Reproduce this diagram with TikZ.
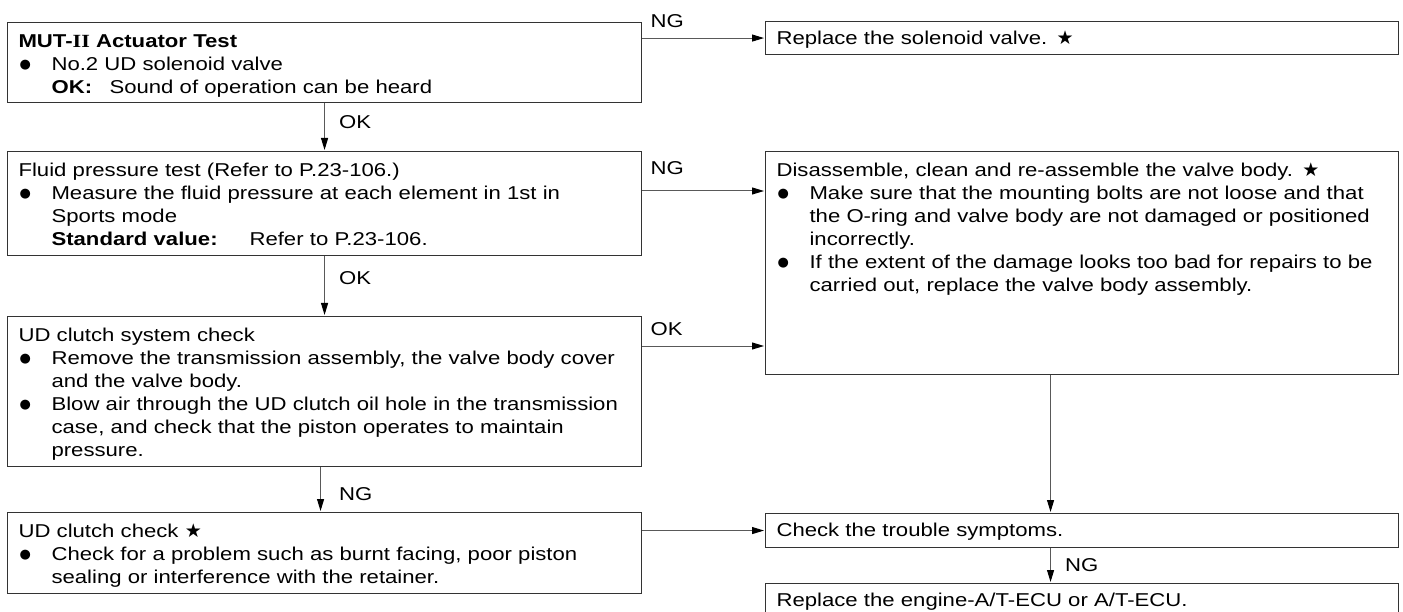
\documentclass[tikz,border=0pt]{standalone}
\usepackage{fontspec}
\setmainfont{Liberation Sans}[FakeStretch=1.19,WordSpace=1.3]
\newfontfamily\serifbf{Liberation Serif}[FakeStretch=1.19]
\newfontfamily\symfont{DejaVu Sans}
\usetikzlibrary{arrows.meta,positioning}

\newcommand{\bulsym}{{\symfont\fontsize{13}{13}\selectfont\raisebox{1.2pt}{●}}}
\newcommand{\itm}{\makebox[33pt][l]{\hspace{1pt}\bulsym}}
\newcommand{\cnt}{\hspace*{33pt}}
\newcommand{\mstar}{{\symfont\fontsize{19}{19}\selectfont ★}}

\begin{document}
\begin{tikzpicture}[
  x=1pt, y=-1pt,
  font=\fontsize{18.6}{23}\selectfont,
  box/.style={draw=black!80, line width=1.1pt, anchor=north west, align=left,
              inner xsep=11pt, inner ysep=0pt, text width=612pt},
  rbox/.style={box, text width=611pt},
  lbl/.style={inner sep=0pt},
  arr/.style={-{Triangle[length=12pt,width=7pt,color=black]}, draw=black!65,
              line width=1pt, shorten >=1pt}]

\useasboundingbox (0,0) rectangle (1403,612);

% left column
\node[box, text height=24.5pt, text depth=55.5pt] (mut) at (7,22)
  {\textbf{MUT-{\serifbf\bfseries II} Actuator Test}\\
   \itm No.2 UD solenoid valve\\
   \cnt\makebox[58pt][l]{\textbf{OK:}}Sound of operation can be heard};
\node[box, text height=24.5pt, text depth=79.5pt] (fluid) at (7,151)
  {Fluid pressure test (Refer to P.23-106.)\\
   \itm Measure the fluid pressure at each element in 1st in\\
   \cnt Sports mode\\
   \cnt\makebox[198pt][l]{\textbf{Standard value:}}Refer to P.23-106.};
\node[box, text height=24.5pt, text depth=125.5pt] (udsys) at (7,316)
  {UD clutch system check\\
   \itm Remove the transmission assembly, the valve body cover\\
   \cnt and the valve body.\\
   \itm Blow air through the UD clutch oil hole in the transmission\\
   \cnt case, and check that the piston operates to maintain\\
   \cnt pressure.};
\node[box, text height=24.5pt, text depth=56.5pt] (udchk) at (7,512)
  {UD clutch check \mstar\\
   \itm Check for a problem such as burnt facing, poor piston\\
   \cnt sealing or interference with the retainer.};

% right column
\node[rbox, text height=23pt, text depth=10pt] (replsol) at (765,21)
  {Replace the solenoid valve. \mstar};
\node[rbox, text height=24.5pt, text depth=198.5pt] (disasm) at (765,151)
  {Disassemble, clean and re-assemble the valve body. \mstar\\
   \itm Make sure that the mounting bolts are not loose and that\\
   \cnt the O-ring and valve body are not damaged or positioned\\
   \cnt incorrectly.\\
   \itm If the extent of the damage looks too bad for repairs to be\\
   \cnt carried out, replace the valve body assembly.};
\node[rbox, text height=23pt, text depth=11pt] (symp) at (765,513)
  {Check the trouble symptoms.};
\node[rbox, text height=23pt, text depth=11pt] (ecu) at (765,583)
  {Replace the engine-A/T-ECU or A/T-ECU.};

% connectors
\draw[arr] (mut) -- node[lbl, right=14pt, pos=0.4] {OK} (fluid);
\draw[arr] (fluid) -- node[lbl, right=14pt, pos=0.36] {OK} (udsys);
\draw[arr] ([xshift=-4pt]udsys.south) -- node[lbl, right=18pt, pos=0.6] {NG} ([xshift=-4pt]udchk.north);
\draw[arr] (replsol.west -| mut.east) -- node[lbl, pos=0, anchor=base west, xshift=8pt, yshift=11pt] {NG} (replsol.west);
\draw[arr] ([yshift=-40pt]fluid.north east) -- node[lbl, pos=0, anchor=base west, xshift=8pt, yshift=16pt] {NG} ([yshift=-40pt]fluid.north east -| disasm.west);
\draw[arr] ([yshift=-30pt]udsys.north east) -- node[lbl, pos=0, anchor=base west, xshift=8pt, yshift=11pt] {OK} ([yshift=-30pt]udsys.north east -| disasm.west);
\draw[arr] (symp.west -| udchk.east) -- (symp.west);
\draw[arr] ([xshift=-31.5pt]disasm.south) -- ([xshift=-31.5pt]symp.north);
\draw[arr] ([xshift=-31.5pt]symp.south) -- node[lbl, right=14pt, pos=0.5] {NG} ([xshift=-31.5pt]ecu.north);
\end{tikzpicture}
\end{document}
